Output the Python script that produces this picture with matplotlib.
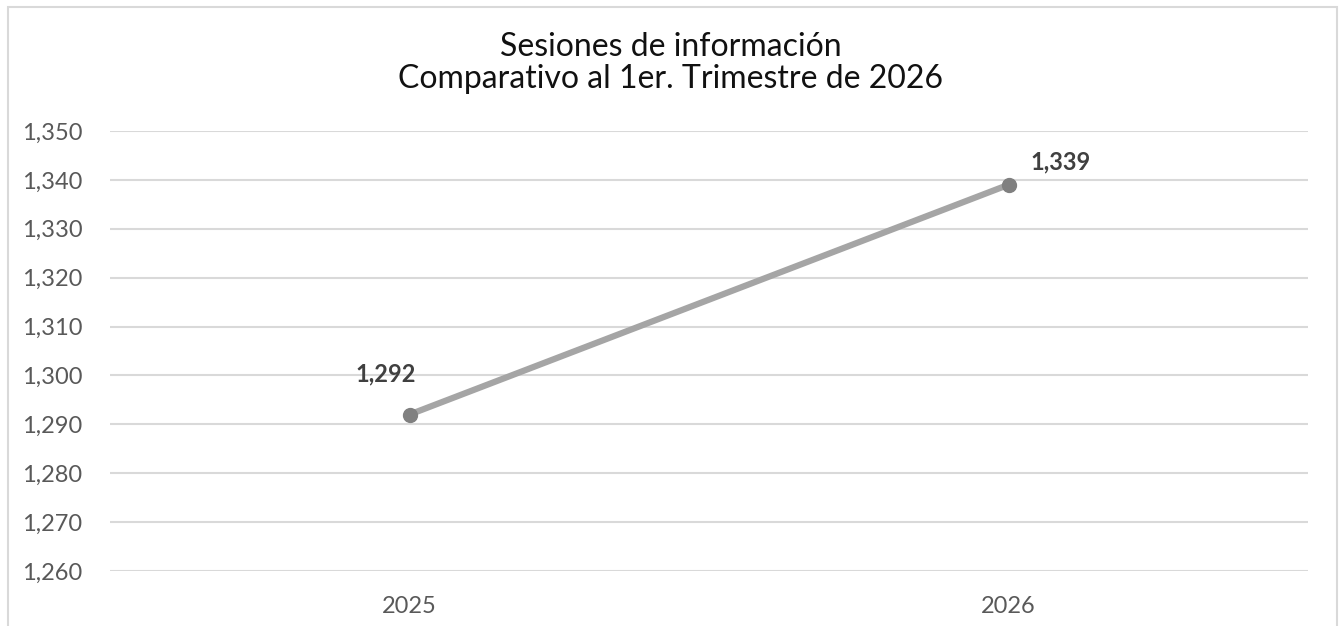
import matplotlib.pyplot as plt
from matplotlib.patches import Rectangle

years = ["2025", "2026"]
sessions = [1292, 1339]
yticks = list(range(1260, 1351, 10))

plt.rcParams['font.family'] = ['Lato', 'DejaVu Sans']

fig = plt.figure(figsize=(13.42, 6.26), dpi=100)
ax = fig.add_axes([110 / 1342, 1 - 571 / 626, 1198 / 1342, 440 / 626])

# outer frame of the chart (bottom edge cut off in the original)
fig.patches.append(Rectangle((8 / 1342, -0.05), 1329 / 1342, 1.05 - 7 / 626,
                             transform=fig.transFigure, fill=False,
                             edgecolor="#D9D9D9", lw=1.5))

x = range(len(years))
ax.plot(x, sessions, color="#A5A5A5", lw=4.5, zorder=3,
        marker="o", markersize=10, markerfacecolor="#808080",
        markeredgecolor="#808080", solid_capstyle="round")

offsets = [(-24, 41), (52, 23)]
for xi, v, (dx, dy) in zip(x, sessions, offsets):
    ax.annotate(f"{v:,}", (xi, v), xytext=(dx, dy), textcoords="offset pixels",
                ha="center", va="center", fontsize=17, fontweight="bold",
                color="#404040")

ax.set_xlim(-0.5, 1.5)
ax.set_ylim(1260, 1350)
ax.set_yticks(yticks)
ax.set_yticklabels([f"{t:,}" for t in yticks])
ax.set_xticks(list(x))
ax.set_xticklabels(years)
ax.grid(axis="y", color="#D9D9D9", lw=1.5)
ax.set_axisbelow(True)
for s in ax.spines.values():
    s.set_visible(False)
ax.tick_params(length=0, labelsize=17, colors="#595959")
ax.tick_params(axis="y", pad=20)
ax.tick_params(axis="x", pad=18)

fig.text(0.5, 1 - 63 / 626, "Sesiones de información\nComparativo al 1er. Trimestre de 2026",
         ha="center", va="center", fontsize=23, color="#111111", linespacing=1.1)

fig.savefig("out.png", dpi=100)
